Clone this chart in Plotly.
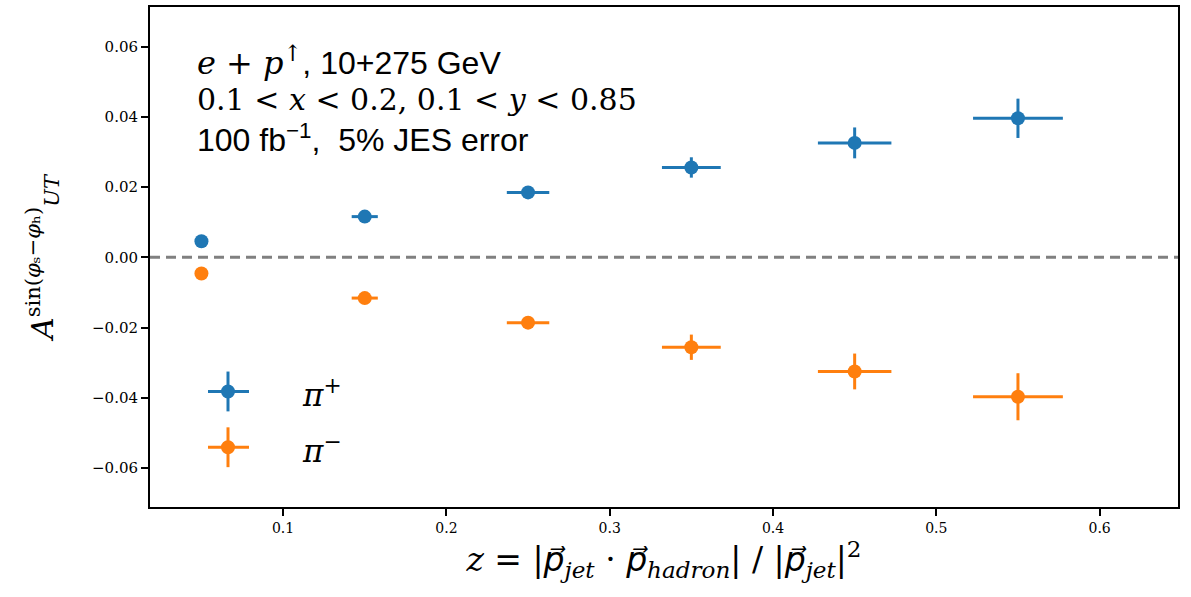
import plotly.graph_objects as go

# ---- data ----
z_bins = [0.05, 0.15, 0.25, 0.35, 0.45, 0.55]
z_halfwidth = [0.0, 0.008, 0.013, 0.018, 0.0225, 0.0275]
asym_pip = [0.0046, 0.0116, 0.0185, 0.0256, 0.0326, 0.0396]
err_pip = [0.0004, 0.0009, 0.0014, 0.0029, 0.0044, 0.0056]
asym_pim = [-0.0046, -0.0116, -0.0186, -0.0256, -0.0325, -0.0397]
err_pim = [0.0004, 0.0009, 0.0014, 0.0036, 0.0051, 0.0067]
series_names = ["π+", "π−"]
y_ticks = [-0.06, -0.04, -0.02, 0.0, 0.02, 0.04, 0.06]
x_ticks = [0.1, 0.2, 0.3, 0.4, 0.5, 0.6]

BLUE = "#1f77b4"
ORANGE = "#ff7f0e"
SERIF = "DejaVu Serif"
SANS = "Liberation Sans"
NB = "\u00a0"

fig = go.Figure()
for name, y, ey, col in [(series_names[0], asym_pip, err_pip, BLUE),
                         (series_names[1], asym_pim, err_pim, ORANGE)]:
    fig.add_trace(go.Scatter(
        x=z_bins, y=y, mode="markers", name=name, showlegend=False,
        marker=dict(color=col, size=14, line=dict(width=0)),
        error_x=dict(type="data", array=z_halfwidth, color=col, thickness=3, width=0),
        error_y=dict(type="data", array=ey, color=col, thickness=3, width=0),
    ))

fig.add_hline(y=0, line=dict(color="#808080", width=3, dash="10px,6px"), layer="below")

W, H = 1191, 597
L, R, T, B = 150, 13, 5, 90
pw, ph = W - L - R, H - T - B

def dx(px):
    return (px - L) / pw

def dy(py):
    return (T + ph - py) / ph

# custom legend (errorbar style keys)
legend_rows = [(391, BLUE, "<i>π</i><sup>+</sup>"), (447, ORANGE, "<i>π</i><sup>−</sup>")]
for py, col, label in legend_rows:
    cx, cy = dx(228), dy(py)
    fig.add_shape(type="line", xref="x domain", yref="y domain",
                  x0=dx(208), x1=dx(249), y0=cy, y1=cy, line=dict(color=col, width=3))
    fig.add_shape(type="line", xref="x domain", yref="y domain",
                  x0=cx, x1=cx, y0=dy(py - 20), y1=dy(py + 20), line=dict(color=col, width=3))
    fig.add_shape(type="circle", xref="x domain", yref="y domain",
                  x0=dx(221), x1=dx(235), y0=dy(py - 7), y1=dy(py + 7),
                  fillcolor=col, line=dict(color=col, width=0))
    fig.add_annotation(xref="x domain", yref="y domain", x=dx(300), y=dy(py + 2),
                       xanchor="left", yanchor="middle", text=label, showarrow=False,
                       font=dict(family=SERIF, size=31, color="black"))

# info text
lines = [
    (59, f"<span style='font-family:{SERIF}'><i>e</i> + <i>p</i><sup>↑</sup></span>, 10+275 GeV", SANS, 32),
    (98, "0.1 &lt; <i>x</i> &lt; 0.2, 0.1 &lt; <i>y</i> &lt; 0.85", SERIF, 30),
    (137, f"100{NB}fb<sup>−1</sup>,{NB}{NB}5%{NB}JES error", SANS, 32),
]
for py, txt, fam, sz in lines:
    fig.add_annotation(xref="x domain", yref="y domain", x=dx(195), y=dy(py),
                       xanchor="left", yanchor="middle", text=txt, showarrow=False,
                       font=dict(family=fam, size=sz, color="black"))

PV = "<span style='font-family:DejaVu Sans'><i>p\u20d7</i></span>"
fig.update_xaxes(
    range=[0.0185, 0.648], tickvals=x_ticks, tickformat=".1f",
    ticks="outside", ticklen=7, tickwidth=2, tickcolor="black",
    showline=True, linecolor="black", linewidth=2, mirror=True,
    showgrid=False, zeroline=False,
    tickfont=dict(family=SERIF, size=14, color="black"),
    title=dict(text=f"<i>z</i> = |{PV}<sub><i>jet</i></sub> · {PV}<sub><i>hadron</i></sub>| / |{PV}<sub><i>jet</i></sub>|<sup>2</sup>",
               font=dict(family=SERIF, size=33, color="black"), standoff=9),
)
fig.update_yaxes(
    range=[-0.0711, 0.0713], tickvals=y_ticks, tickformat=".2f",
    ticks="outside", ticklen=7, tickwidth=2, tickcolor="black",
    showline=True, linecolor="black", linewidth=2, mirror=True,
    showgrid=False, zeroline=False,
    tickfont=dict(family=SERIF, size=15, color="black"),
    title=dict(text="<i>A</i><sup>sin(<i>φ</i>ₛ−<i>φ</i>ₕ)</sup><sub><i>UT</i></sub>",
               font=dict(family=SERIF, size=30, color="black"), standoff=30),
)
fig.update_layout(
    width=W, height=H, margin=dict(l=L, r=R, t=T, b=B),
    plot_bgcolor="white", paper_bgcolor="white", showlegend=False,
)
fig.write_html("out.html", config={"displayModeBar": False},
               post_script="document.body.style.margin='0';")
